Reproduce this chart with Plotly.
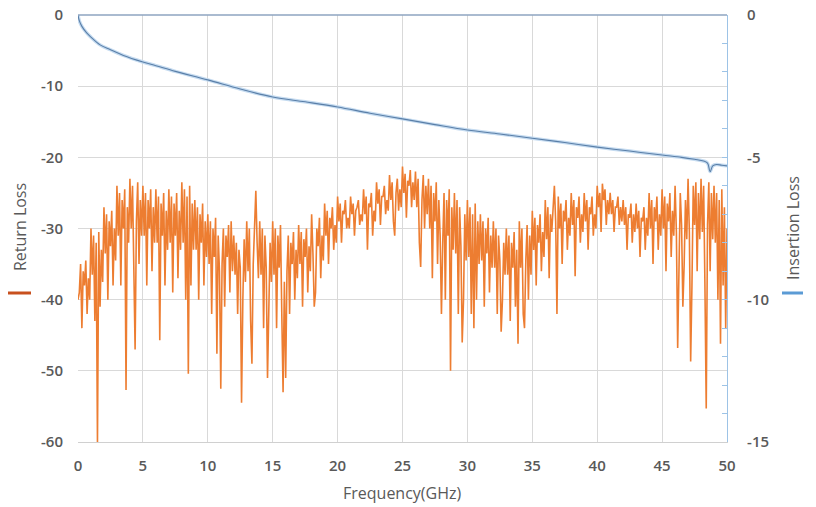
import plotly.graph_objects as go

# ---- Data ----
rl_start = 0.0
rl_step = 0.1
return_loss = [
    -40, -39, -35, -44, -36, -38, -34.5, -42, -37, -40,
    -30, -36.5, -31, -43, -32, -60, -30.5, -41, -33, -37.5,
    -27, -33.5, -28, -40, -29, -32.5, -27.5, -38, -30, -34.5,
    -24, -31, -25, -38, -26, -30, -24.5, -52.7, -27, -32,
    -23, -30, -24, -37, -47, -29, -23.5, -35, -26, -31,
    -24, -31, -25, -38, -26, -30, -24.5, -36, -27, -32,
    -24.5, -32, -25.5, -45.7, -26.5, -31, -25, -38, -27.5, -33,
    -24.5, -32, -25.5, -39, -26.5, -31, -25, -37, -27.5, -33,
    -23.5, -32, -24.5, -40, -25.5, -50.4, -24, -38, -26.5, -33,
    -26, -33, -27, -40, -28, -32, -26.5, -38, -29, -34,
    -28, -35, -29, -42, -30, -34, -28.5, -47.6, -31, -36,
    -52.5, -35, -30, -41, -31, -34, -29.5, -39, -29, -36,
    -31, -36.5, -32, -42, -33, -35.5, -54.5, -40, -31.5, -37.5,
    -29, -36, -30, -43, -49, -35, -30.5, -24.7, -32, -37,
    -29, -36.5, -30, -44, -31, -35.5, -51, -42, -32, -37.5,
    -29, -36.5, -30, -44, -31, -35.5, -29.5, -42, -53, -37.5,
    -51, -36, -31, -42, -32, -35, -30.5, -40, -33, -37,
    -29.5, -35, -30.5, -41, -31.5, -34, -30, -39, -32.5, -36,
    -28, -33.5, -41, -39, -30, -32.5, -28.5, -37, -31, -34.5,
    -26.5, -31, -27.5, -35, -28.5, -30, -27, -33, -29.5, -32,
    -25.5, -29, -26.5, -32, -27.5, -28, -26, -30, -28.5, -30,
    -25.5, -28, -26.5, -31, -27.5, -27, -26, -29.5, -28, -29,
    -24.5, -28, -25.5, -33, -26.5, -27, -25, -31, -27.5, -29,
    -23.5, -26.5, -24.5, -29.5, -25.5, -25.5, -24, -28, -26, -27.5,
    -22.5, -26, -23.5, -29, -31, -25, -23, -27.5, -24.5, -27,
    -21.3, -25, -22.3, -28.5, -23.3, -24, -21.8, -27, -23.5, -26,
    -22, -27, -23, -32, -35.4, -26, -22.5, -30, -24, -28,
    -23, -30, -24, -37, -25, -29, -23.5, -35, -26, -31,
    -42, -32, -25, -40, -26, -31, -24.5, -50, -27, -33,
    -25, -33.5, -26, -42, -27, -32.5, -46, -40, -28, -34.5,
    -26, -34, -27, -42, -28, -44, -26.5, -40, -29, -35,
    -28, -34.5, -29, -41, -30, -33.5, -28.5, -39, -31, -35.5,
    -29, -35.5, -30, -42, -31, -34.5, -44.5, -40, -32, -36.5,
    -30, -36.5, -31, -43, -32, -35.5, -30.5, -41, -33, -46.2,
    -29, -35.5, -30, -42, -44, -34.5, -29.5, -40, -31, -36.5,
    -27.5, -33, -28.5, -38, -29.5, -32, -28, -36, -30.5, -34,
    -26, -31.5, -27, -37, -28, -30.5, -26.5, -24, -29, -42,
    -25.5, -30, -26.5, -35, -27.5, -29, -26, -33, -28.5, -31,
    -25, -29.5, -26, -36.7, -27, -28.5, -25.5, -32, -28, -30.5,
    -25, -29, -26, -33, -27, -28, -25.5, -31, -28, -30,
    -24, -27, -25, -30.5, -23.7, -26, -24.5, -29.5, -26, -28,
    -25, -28, -26, -30.5, -27, -27, -25.5, -29.5, -27, -29,
    -26, -29.5, -27, -33, -28, -28.5, -26.5, -32, -28, -30.5,
    -26.5, -30, -27.5, -34, -28.5, -29, -27, -33, -28.5, -31,
    -25, -30, -26, -35, -27, -29, -25.5, -33, -28, -31,
    -24.5, -30, -25.5, -36, -26.5, -29, -25, -34, -27.5, -31,
    -24, -30.5, -46.8, -37, -25, -29.5, -41, -35, -26, -31.5,
    -23, -30.5, -48.7, -38, -24, -29.5, -23.5, -36, -25, -31.5,
    -23, -30.5, -24, -38, -55.3, -29.5, -23.5, -36, -25, -31.5,
    -24, -32, -25, -40, -26, -46.2, -24.5, -38, -27, -44,
    -30,
]
rl_freq = [round(rl_start + i * rl_step, 3) for i in range(len(return_loss))]

il_freq = [0, 0.1, 0.3, 0.67, 1, 1.7, 2.5, 3.5, 5, 6, 7.5, 10, 12.5, 15, 17.5,
           20, 22.5, 25, 27.5, 30, 32.5, 35, 37.5, 40, 42.5, 45, 46.5, 47.5,
           48.2, 48.5, 48.7, 48.9, 49.2, 49.6, 50]
insertion_loss = [0, -0.2, -0.4, -0.63, -0.78, -1.05, -1.22, -1.42, -1.65, -1.78,
                  -1.98, -2.28, -2.6, -2.88, -3.05, -3.23, -3.45, -3.65, -3.85,
                  -4.04, -4.18, -4.33, -4.48, -4.64, -4.78, -4.92, -5.0, -5.07,
                  -5.13, -5.2, -5.5, -5.3, -5.25, -5.28, -5.3]

x_ticks = [0, 5, 10, 15, 20, 25, 30, 35, 40, 45, 50]
rl_ticks = [0, -10, -20, -30, -40, -50, -60]
rl_tick_text = ["0", "-10", "-20", "-30", "-40", "-50", "-60"]
il_ticks = [0, -5, -10, -15]
il_tick_text = ["0", "-5", "-10", "-15"]

# ---- Styles ----
TXT = "#595959"
GRID = "#d9d9d9"
FONT = "Open Sans"
ORANGE = "#ED7D31"
W, H = 816, 507
# plot box in window pixels: x 78..727, y 15..442
ML, MT = 78, 15
MR, MB = W - 727, H - 442

fig = go.Figure()
fig.add_trace(go.Scatter(x=rl_freq, y=return_loss, mode="lines",
                         line=dict(color=ORANGE, width=1.6),
                         showlegend=False, yaxis="y"))
fig.add_trace(go.Scatter(x=il_freq, y=insertion_loss, mode="lines",
                         line=dict(color="#c5dbf0", width=3.5, shape="spline"),
                         showlegend=False, yaxis="y2"))
fig.add_trace(go.Scatter(x=il_freq, y=insertion_loss, mode="lines",
                         line=dict(color="#5a7fa8", width=1.1, shape="spline"),
                         showlegend=False, yaxis="y2"))

pw, ph = W - ML - MR, H - MT - MB


def px(x):
    return (x - ML) / pw


def py(y):
    return 1 - (y - MT) / ph


tick_font = dict(size=15, color=TXT, weight=600)

fig.update_layout(
    width=W, height=H,
    margin=dict(l=ML, r=MR, t=MT, b=MB, autoexpand=False),
    paper_bgcolor="white", plot_bgcolor="white",
    font=dict(family=FONT, color=TXT),
    xaxis=dict(range=[0, 50], tickvals=x_ticks, showgrid=True, gridcolor=GRID,
               gridwidth=1, zeroline=False, showline=True, linecolor="#d0d0d0",
               ticks="", automargin=False, ticklabeloverflow="allow",
               tickfont=tick_font, ticklabelstandoff=10),
    yaxis=dict(range=[-60, 0], tickvals=rl_ticks, ticktext=rl_tick_text,
               showgrid=True, gridcolor=GRID, ticklabeloverflow="allow",
               zeroline=False, showline=False, ticks="", automargin=False,
               tickfont=tick_font, ticklabelstandoff=14),
    yaxis2=dict(range=[-15, 0], tickvals=il_ticks, ticktext=il_tick_text,
                overlaying="y", side="right", ticklabeloverflow="allow",
                showgrid=False, zeroline=False, showline=True, automargin=False,
                linecolor="#9dc3e6", linewidth=1.2,
                ticks="inside", ticklen=5, tickcolor="#9dc3e6",
                minor=dict(dtick=1, ticks="inside", ticklen=5, tickcolor="#9dc3e6"),
                tickfont=tick_font, ticklabelstandoff=16),
    annotations=[
        dict(text="Return Loss", x=px(20), y=py(227), xref="paper", yref="paper",
             xanchor="center", yanchor="middle",
             textangle=-90, showarrow=False, font=dict(size=16, color=TXT)),
        dict(text="Insertion Loss", x=px(793), y=py(228), xref="paper", yref="paper",
             xanchor="center", yanchor="middle",
             textangle=-90, showarrow=False, font=dict(size=16, color=TXT)),
        dict(text="Frequency(GHz)", x=px(402), y=py(493), xref="paper", yref="paper",
             xanchor="center", yanchor="middle",
             showarrow=False, font=dict(size=16, color=TXT)),
    ],
    shapes=[
        dict(type="line", xref="paper", yref="paper", x0=0, x1=1, y0=1, y1=1,
             line=dict(color="#8ea4c0", width=1.6)),
        dict(type="line", xref="paper", yref="paper", x0=px(8), x1=px(31),
             y0=py(293), y1=py(293), line=dict(color="#c8501e", width=3)),
        dict(type="line", xref="paper", yref="paper", x0=px(782), x1=px(803),
             y0=py(293), y1=py(293), line=dict(color="#5b9bd5", width=3)),
    ],
)

# remove the browser's default page margin so the 816x507 figure fills the window
fig.write_html(
    "out.html",
    config={"displayModeBar": False},
    post_script="document.body.style.margin='0';document.body.style.overflow='hidden';",
)
